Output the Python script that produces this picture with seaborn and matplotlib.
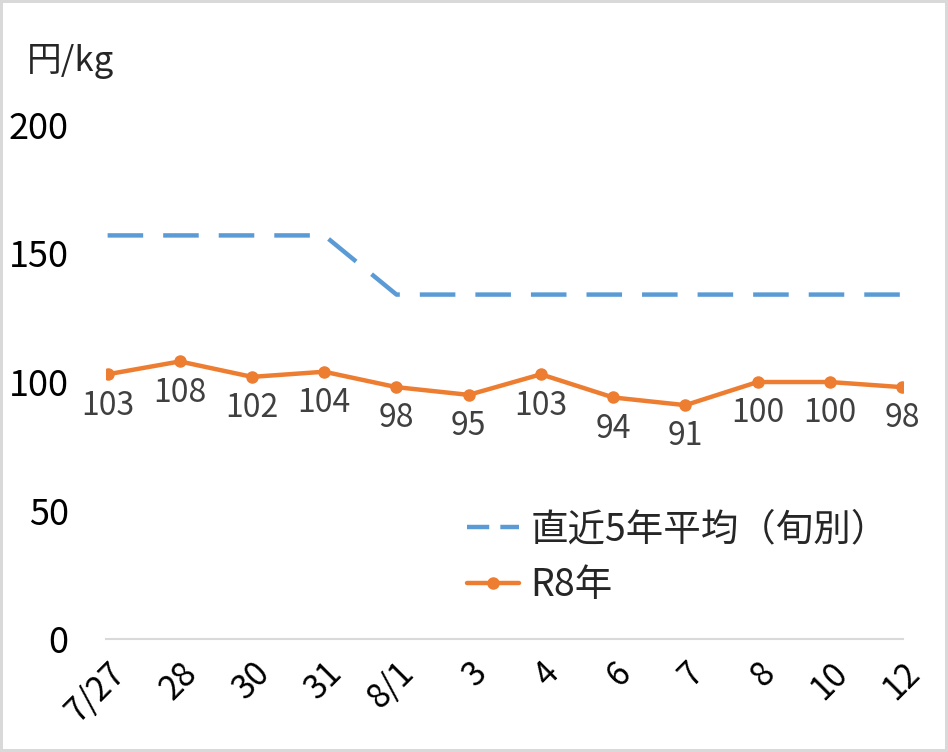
import pandas as pd
import matplotlib.pyplot as plt
import seaborn as sns

# データ
dates = ['7/27', '28', '30', '31', '8/1', '3', '4', '6', '7', '8', '10', '12']
r8 = [103, 108, 102, 104, 98, 95, 103, 94, 91, 100, 100, 98]
avg5 = [157, 157, 157, 157, 134, 134, 134, 134, 134, 134, 134, 134]

df = pd.DataFrame({'日付': dates, 'R8年': r8, '直近5年平均（旬別）': avg5})
df['x'] = range(len(dates))

sns.set_theme(style='white')
plt.rcParams['font.family'] = ['Noto Sans CJK JP', 'DejaVu Sans']

fig = plt.figure(figsize=(9.48, 7.52), dpi=100)
fig.patch.set_edgecolor('#D9D9D9')
fig.patch.set_linewidth(3)
ax = fig.add_axes([0.112, 0.150, 0.841, 0.684])

sns.lineplot(data=df, x='x', y='直近5年平均（旬別）', ax=ax, color='#5B9BD5',
             linewidth=3.2, dashes=False, label='直近5年平均（旬別）')
ax.lines[-1].set_dashes([8, 4.5])
sns.lineplot(data=df, x='x', y='R8年', ax=ax, color='#ED7D31', linewidth=3.2,
             marker='o', markersize=9, markeredgewidth=0, label='R8年')

# データラベル
for i, v in enumerate(r8):
    ax.annotate(str(v), (i, v), xytext=(0, -11), textcoords='offset points',
                ha='center', va='top', fontsize=23, color='#404040')

ax.set_xlim(-0.02, 11.02)
ax.set_ylim(0, 200)
ax.set_yticks([0, 50, 100, 150, 200])
ax.set_xticks(df['x'])
ax.set_xticklabels(dates, rotation=45, ha='right', rotation_mode='anchor')
ax.tick_params(axis='both', length=0, colors='black')
ax.tick_params(axis='y', labelsize=26, pad=27)
ax.tick_params(axis='x', labelsize=24, pad=12)
ax.set_xlabel('')
ax.set_ylabel('')

for s in ['top', 'right', 'left']:
    ax.spines[s].set_visible(False)
ax.spines['bottom'].set_color('#D9D9D9')
ax.spines['bottom'].set_linewidth(1.5)

fig.text(0.028, 0.918, '円/kg', fontsize=25, va='center', ha='left')

leg = ax.legend(loc='lower left', bbox_to_anchor=(0.41, 0.0), frameon=False,
                fontsize=27, handlelength=1.4, handletextpad=0.3, labelspacing=0.45)
leg.get_lines()[0].set_dashes([5, 2.5])

fig.savefig('out.png', dpi=100)
